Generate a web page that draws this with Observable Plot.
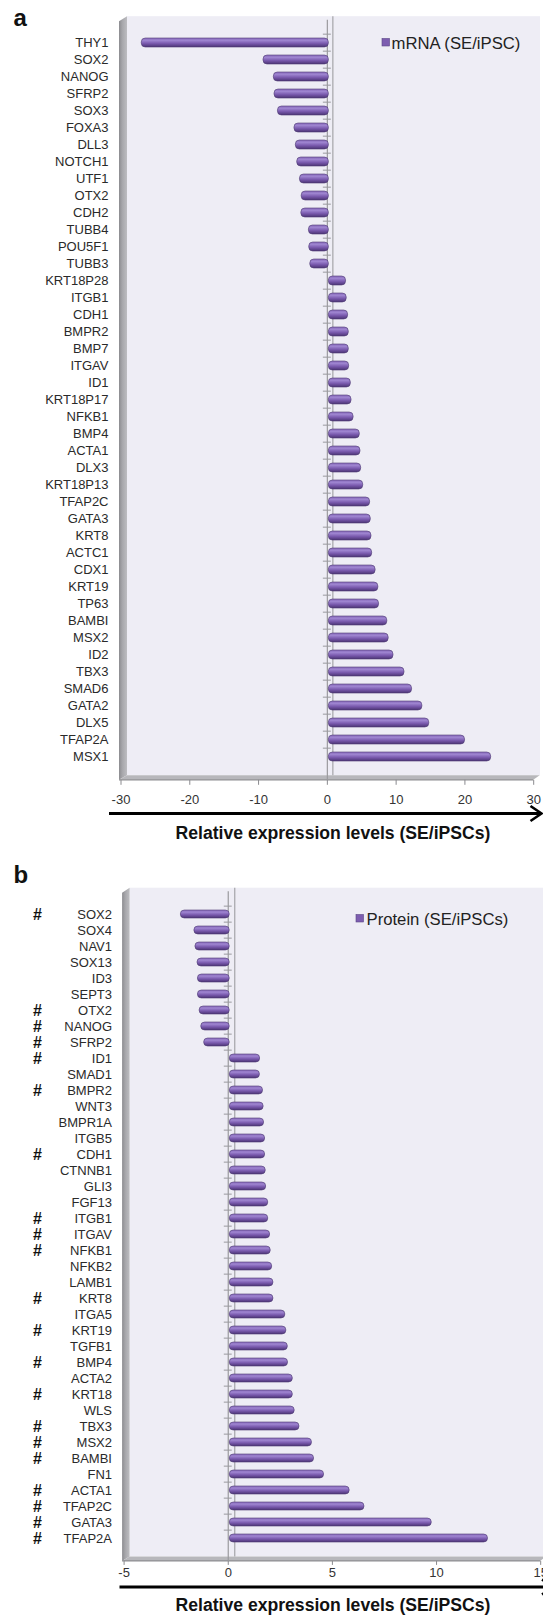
<!DOCTYPE html>
<html><head><meta charset="utf-8">
<script src="https://cdn.jsdelivr.net/npm/d3@7"></script>
<script src="https://cdn.jsdelivr.net/npm/@observablehq/plot@0.6"></script>
<style>
html,body{margin:0;padding:0;background:#fff;}
#wrap{position:relative;width:543px;height:1616px;overflow:hidden;font-family:"Liberation Sans",Arial,sans-serif;}
#wrap svg{position:absolute;left:0;}
</style></head><body><div id="wrap"></div>
<script>
// ---------- Panel a : mRNA ----------
const genesA = ["THY1","SOX2","NANOG","SFRP2","SOX3","FOXA3","DLL3","NOTCH1","UTF1","OTX2","CDH2","TUBB4","POU5F1","TUBB3","KRT18P28","ITGB1","CDH1","BMPR2","BMP7","ITGAV","ID1","KRT18P17","NFKB1","BMP4","ACTA1","DLX3","KRT18P13","TFAP2C","GATA3","KRT8","ACTC1","CDX1","KRT19","TP63","BAMBI","MSX2","ID2","TBX3","SMAD6","GATA2","DLX5","TFAP2A","MSX1"];
const valuesA = [-27.2,-9.5,-8.0,-7.9,-7.4,-5.0,-4.8,-4.6,-4.2,-3.95,-4.0,-2.9,-2.85,-2.7,2.5,2.6,2.8,2.9,2.9,2.95,3.2,3.3,3.6,4.5,4.6,4.7,5.0,6.0,6.1,6.2,6.3,6.8,7.2,7.3,8.5,8.7,9.4,11.0,12.1,13.6,14.6,19.8,23.6];
const ticksA = [-30,-20,-10,0,10,20,30];
const legendA = "mRNA (SE/iPSC)";

// ---------- Panel b : protein ----------
const genesB = ["SOX2","SOX4","NAV1","SOX13","ID3","SEPT3","OTX2","NANOG","SFRP2","ID1","SMAD1","BMPR2","WNT3","BMPR1A","ITGB5","CDH1","CTNNB1","GLI3","FGF13","ITGB1","ITGAV","NFKB1","NFKB2","LAMB1","KRT8","ITGA5","KRT19","TGFB1","BMP4","ACTA2","KRT18","WLS","TBX3","MSX2","BAMBI","FN1","ACTA1","TFAP2C","GATA3","TFAP2A"];
const valuesB = [-2.35,-1.7,-1.65,-1.55,-1.53,-1.53,-1.45,-1.37,-1.23,1.46,1.45,1.6,1.63,1.65,1.7,1.7,1.73,1.75,1.85,1.85,1.94,1.97,2.04,2.1,2.1,2.67,2.72,2.79,2.8,3.03,3.03,3.12,3.35,3.95,4.05,4.53,5.76,6.47,9.7,12.4];
const markedB = ["SOX2","OTX2","NANOG","SFRP2","ID1","BMPR2","CDH1","ITGB1","ITGAV","NFKB1","KRT8","KRT19","BMP4","KRT18","TBX3","MSX2","BAMBI","ACTA1","TFAP2C","GATA3","TFAP2A"];
const ticksB = [-5,0,5,10,15];
const legendB = "Protein (SE/iPSCs)";

const axisTitle = "Relative expression levels (SE/iPSCs)";
const FONT = "Liberation Sans, Arial, sans-serif";

function panel(o) {
  const W = 543;
  const data = o.genes.map((g, i) => ({gene: g, value: o.values[i]}));
  const fl = o.fl, fr = o.fr, ft = o.ft, fb = o.fb;
  const step = (fb - ft) / o.genes.length;
  const marks = [
    Plot.ruleX([0], {dx: o.backDx, stroke: "#a4a4a8", strokeWidth: 1.2, insetTop: -3.5, insetBottom: 4.5}),
    Plot.ruleX([0], {stroke: "#9a9a9e", strokeWidth: 1.2}),
    Plot.ruleY(o.genes, {y: d => d, x1: -o.tickHalf, x2: o.tickHalf, dy: -step / 2, stroke: "#9a9a9e", strokeWidth: 1}),
    Plot.barX(data, {x: "value", y: "gene", dx: 1.5, fill: `url(#${o.id}Grad)`, stroke: "#4d3a72", strokeWidth: 0.6, rx: 4})
  ];
  if (o.marked) {
    marks.push(Plot.text(o.marked, {y: d => d, text: () => "#", frameAnchor: "left", dx: 37 - fl, textAnchor: "middle", fontWeight: "bold", fontSize: 16, fill: "#111"}));
  }
  const plot = Plot.plot({
    width: W, height: o.height,
    marginLeft: fl, marginRight: W - fr, marginTop: ft, marginBottom: o.height - fb,
    style: {fontFamily: FONT, fontSize: "13px", color: "#2a2a2a", background: "transparent"},
    x: {domain: o.domain, ticks: o.ticks, tickSize: o.tickSize, tickPadding: o.tickPadding, label: null, tickFormat: d => String(d)},
    y: {domain: o.genes, paddingInner: 0.5, paddingOuter: 0.25, tickSize: 0, tickPadding: o.yPad, label: null},
    marks
  });
  const svg = d3.select(plot);
  svg.style("top", o.top + "px");
  // gradients
  const defs = svg.insert("defs", ":first-child");
  const g1 = defs.append("linearGradient").attr("id", o.id + "Grad").attr("x1", 0).attr("y1", 0).attr("x2", 0).attr("y2", 1);
  [[0, "#8a6cbd"], [0.28, "#9d83cf"], [0.6, "#7a5aae"], [1, "#4c3475"]].forEach(([off, c]) => g1.append("stop").attr("offset", off).attr("stop-color", c));
  const g2 = defs.append("linearGradient").attr("id", o.id + "Wall").attr("x1", 0).attr("y1", 0).attr("x2", 1).attr("y2", 0);
  [[0, "#8c8c90"], [0.4, "#a6a6aa"], [1, "#bdbdc1"]].forEach(([off, c]) => g2.append("stop").attr("offset", off).attr("stop-color", c));
  // 3D background (back wall, side wall, floor)
  const D = o.depth;
  const bg = svg.insert("g", "g");
  bg.append("rect").attr("x", fl + D).attr("y", ft - 3.5).attr("width", o.backRight - (fl + D)).attr("height", (fb - 4.5) - (ft - 3.5)).attr("fill", "#eeedf5");
  bg.append("polygon").attr("points", [[fl - 1.5, ft + 1.5], [fl + D, ft - 3.5], [fl + D, fb - 4.5], [fl - 1.5, fb]].map(p => p.join(",")).join(" ")).attr("fill", `url(#${o.id}Wall)`);
  bg.append("polygon").attr("points", [[fl - 1.5, fb], [fl + D, fb - 4.5], [fr + D, fb - 4.5], [fr, fb]].map(p => p.join(",")).join(" ")).attr("fill", "#b7b7bb");
  bg.append("line").attr("x1", fl - 1.5).attr("x2", fr).attr("y1", fb).attr("y2", fb).attr("stroke", "#8e8e92").attr("stroke-width", 1.2);
  // x tick colour
  svg.selectAll('[aria-label="x-axis tick"]').attr("stroke", "#8a8a8e");
  svg.selectAll('[aria-label="x-axis tick label"]').attr("fill", "#333");
  const extra = svg.append("g").attr("text-anchor", "start").attr("font-family", FONT);
  // legend
  extra.append("rect").attr("x", o.legX).attr("y", o.legY).attr("width", 7.5).attr("height", 7.5).attr("fill", "#7d5db0").attr("stroke", "#5a4785").attr("stroke-width", 0.6);
  extra.append("text").attr("x", o.legTextX).attr("y", o.legY + 10.3).attr("text-anchor", "start").attr("font-size", 16.7).attr("fill", "#222").text(o.legend);
  // arrow
  extra.append("line").attr("x1", o.arrowX1).attr("x2", o.arrowTip - 1).attr("y1", o.arrowY).attr("y2", o.arrowY).attr("stroke", "#000").attr("stroke-width", 3);
  extra.append("path").attr("d", `M${o.arrowTip - 11},${o.arrowY - 7.5}L${o.arrowTip},${o.arrowY}L${o.arrowTip - 11},${o.arrowY + 7.5}`).attr("fill", "none").attr("stroke", "#000").attr("stroke-width", 2.6);
  // axis title
  extra.append("text").attr("x", 333).attr("y", o.titleY).attr("text-anchor", "middle").attr("font-weight", "bold").attr("font-size", 17.6).attr("fill", "#111").text(axisTitle);
  // panel letter
  extra.append("text").attr("x", 13.5).attr("y", o.letterY).attr("text-anchor", "start").attr("font-weight", "bold").attr("font-size", 24).attr("fill", "#111").text(o.letter);
  return plot;
}

const wrap = document.getElementById("wrap");
wrap.appendChild(panel({
  id: "pa", top: 0, height: 850, genes: genesA, values: valuesA, domain: [-30, 30], ticks: ticksA,
  fl: 120.5, fr: 533.2, ft: 19.7, fb: 779.8, backRight: 540, depth: 6.5, backDx: 5.5, tickHalf: 0.58,
  tickSize: 5, tickPadding: 9.5, yPad: 12.5,
  legend: legendA, legX: 382, legY: 38.5, legTextX: 391.5,
  arrowX1: 109, arrowTip: 541.5, arrowY: 813.5, titleY: 839, letter: "a", letterY: 26
}));
wrap.appendChild(panel({
  id: "pb", top: 850, height: 766, genes: genesB, values: valuesB, marked: markedB, domain: [-5, 15], ticks: ticksB,
  fl: 123.6, fr: 540.2, ft: 41.2, fb: 710.9, backRight: 560, depth: 6, backDx: 6.5, tickHalf: 0.19,
  tickSize: 4, tickPadding: 2.4, yPad: 12.1,
  legend: legendB, legX: 356, legY: 64.5, legTextX: 366.5,
  arrowX1: 119.5, arrowTip: 553, arrowY: 737, titleY: 761, letter: "b", letterY: 33
}));
</script></body></html>
